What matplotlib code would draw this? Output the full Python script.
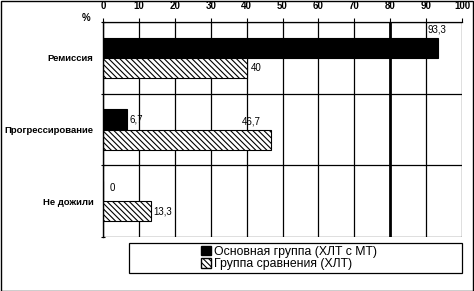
import matplotlib
matplotlib.use("Agg")
import matplotlib.pyplot as plt
from matplotlib.patches import Rectangle, Patch

categories = ["Ремиссия", "Прогрессирование", "Не дожили"]
main_group = [93.3, 6.7, 0]
comparison_group = [40, 46.7, 13.3]
main_labels = ["93,3", "6,7", "0"]
comp_labels = ["40", "46,7", "13,3"]
xticks = [0, 10, 20, 30, 40, 50, 60, 70, 80, 90, 100]
series_names = ["Основная группа (ХЛТ с МТ)", "Группа сравнения (ХЛТ)"]

plt.rcParams['font.family'] = ['Liberation Sans', 'DejaVu Sans']
plt.rcParams['hatch.linewidth'] = 0.8

fig = plt.figure(figsize=(4.74, 2.91), dpi=100)
W, H = 474, 291
ax = fig.add_axes([103 / W, 1 - 237 / H, (462 - 103) / W, (237 - 22) / H])

pos = list(range(len(categories)))
bh = 0.28
hatch = '\\\\\\\\\\\\'
ax.barh([p - bh / 2 for p in pos], main_group, height=bh, color='black', edgecolor='black', lw=0.8)
ax.barh([p + bh / 2 for p in pos], comparison_group, height=bh, color='white',
        edgecolor='black', hatch=hatch, lw=0.8)

ax.set_xlim(0, 100)
ax.set_ylim(len(categories) - 0.5, -0.5)

# gridlines
for t in xticks:
    ax.axvline(t, color='black', lw=2.0 if t == 80 else 0.9, zorder=0)
for b in [i + 0.5 for i in range(-1, len(categories))]:
    ax.axhline(b, color='black', lw=0.9, zorder=0)

ax.xaxis.tick_top()
ax.set_xticks(xticks)
ax.set_xticklabels([str(t) for t in xticks], fontsize=7, fontweight='bold')
ax.tick_params(axis='x', length=3, width=0.8, pad=5, direction='out')
ax.set_yticks(pos)
ax.set_yticklabels(categories, fontsize=6.8, fontweight='bold')
ax.tick_params(axis='y', length=0, pad=7)
ax.set_yticks([i + 0.5 for i in range(-1, len(categories))], minor=True)
ax.tick_params(axis='y', which='minor', length=3, width=0.8, direction='inout')
for s in ['right', 'bottom']:
    ax.spines[s].set_visible(False)
ax.spines['left'].set_linewidth(1.0)
ax.spines['top'].set_linewidth(0.9)

fig.text(86 / W, 1 - 18 / H, "%", fontsize=7, fontweight='bold', ha='center', va='center')

# value labels
fs = 7
ax.annotate(main_labels[0], (main_group[0], 0 - bh), xytext=(-1, 2), textcoords='offset points',
            ha='center', va='bottom', fontsize=fs)
ax.annotate(comp_labels[0], (comparison_group[0], 0 + bh / 2), xytext=(3, 0), textcoords='offset points',
            ha='left', va='center', fontsize=fs)
ax.annotate(main_labels[1], (main_group[1], 1 - bh / 2), xytext=(2, 0), textcoords='offset points',
            ha='left', va='center', fontsize=fs)
ax.annotate(comp_labels[1], (comparison_group[1], 1), xytext=(-14, 2), textcoords='offset points',
            ha='center', va='bottom', fontsize=fs)
ax.annotate(main_labels[2], (main_group[2], 2 - bh / 2), xytext=(5, 2), textcoords='offset points',
            ha='left', va='center', fontsize=fs)
ax.annotate(comp_labels[2], (comparison_group[2], 2 + bh / 2), xytext=(2, 0), textcoords='offset points',
            ha='left', va='center', fontsize=fs)

# legend box
fig.patches.append(Rectangle((129 / W, 1 - 273 / H), (462 - 129) / W, 30 / H,
                             transform=fig.transFigure, fill=False, edgecolor='black', lw=0.9))
handles = [Patch(facecolor='black', edgecolor='black'),
           Patch(facecolor='white', edgecolor='black', hatch=hatch)]
fig.legend(handles, series_names, loc='center', bbox_to_anchor=(289 / W, 1 - 258 / H),
           frameon=False, fontsize=8.8, handlelength=0.8, handleheight=0.8, handletextpad=0.3,
           labelspacing=0.05, borderpad=0)

# figure border
fig.patches.append(Rectangle((0.5 / W, 0.5 / H), 1 - 1.5 / W, 1 - 1.5 / H,
                             transform=fig.transFigure, fill=False, edgecolor='black', lw=1.0))

fig.savefig("out.png", dpi=100)
